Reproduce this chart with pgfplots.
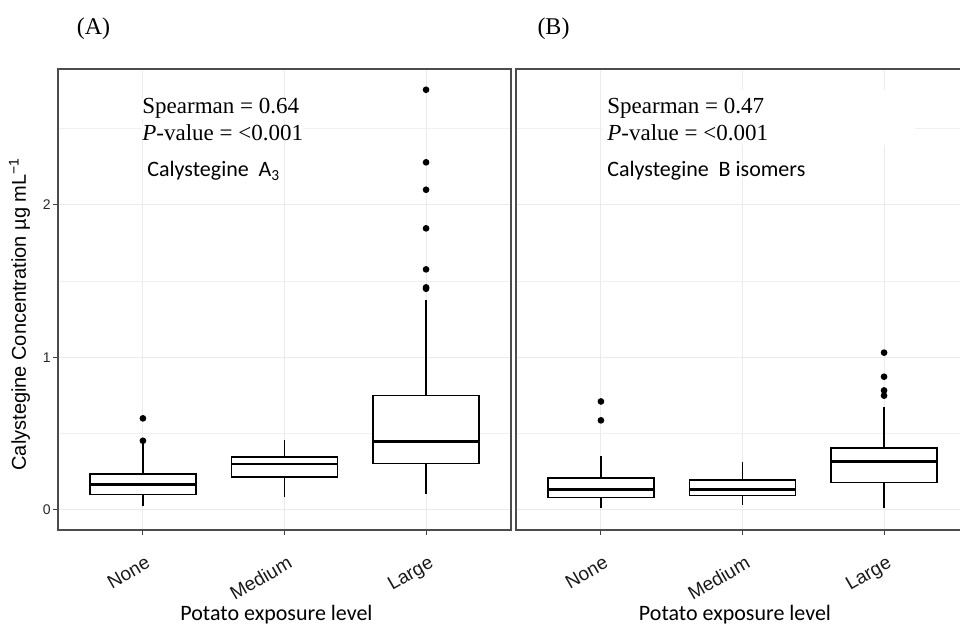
\documentclass[border=0pt]{standalone}
\usepackage{fontspec}
\setmainfont{Liberation Serif}
\newfontfamily\arial{Liberation Sans}
\newfontfamily\calibri{Carlito}
\usepackage{pgfplots}
\pgfplotsset{compat=1.18}
\usepgfplotslibrary{statistics}

% 1 px of the reference = 0.5pt
\pgfplotsset{
  panel/.style={
    scale only axis, width=226.5pt, height=230.5pt,
    anchor=south west,
    xmin=0.4, xmax=3.6, ymin=-0.133, ymax=2.89,
    xtick={1,2,3}, xticklabels={None,Medium,Large},
    ytick={0,1,2}, minor ytick={0.5,1.5,2.5},
    grid=both,
    major grid style={color=black!8, line width=0.5pt},
    minor grid style={color=black!6, line width=0.3pt},
    axis line style={black!70, line width=0.6pt},
    tick align=outside, xtick pos=bottom, ytick pos=left,
    major tick length=2.5pt, minor tick length=0pt,
    tick style={black!75, line width=0.5pt},
    /pgf/number format/assume math mode=true,
    yticklabel style={font=\arial\fontsize{7}{8}\selectfont, inner sep=1pt, text=black!85},
    xticklabel style={font=\arial\fontsize{9.5}{11}\selectfont, rotate=30, anchor=north east, inner sep=0pt, text=black!90, yshift=-9pt, xshift=-4pt},
    boxplot/draw direction=y,
    boxplot/box extend=0.75,
    boxplot/whisker extend=0,
    boxplot/every median/.style={line width=1.3pt},
  },
  bx/.style={black, line width=0.7pt, fill=white, mark=*, mark size=1.3pt, mark options={fill=black}},
}

\begin{document}
\begin{tikzpicture}

% (A) Calystegine A3
\begin{axis}[panel, at={(29pt,47.5pt)}]
\addplot[bx, boxplot prepared={lower whisker=0.022, lower quartile=0.098, median=0.164,
  upper quartile=0.234, upper whisker=0.433, draw position=1}]
  coordinates {(0,0.599)(0,0.452)};
\addplot[bx, boxplot prepared={lower whisker=0.083, lower quartile=0.214, median=0.300,
  upper quartile=0.345, upper whisker=0.459, draw position=2}]
  coordinates {};
\addplot[bx, boxplot prepared={lower whisker=0.103, lower quartile=0.304, median=0.446,
  upper quartile=0.750, upper whisker=1.377, draw position=3}]
  coordinates {(0,2.754)(0,2.278)(0,2.098)(0,1.845)(0,1.576)(0,1.458)(0,1.449)};
\end{axis}

% (B) Calystegine B isomers
\begin{axis}[panel, at={(258pt,47.5pt)}, yticklabels={}, ytick style={draw=none}]
\addplot[bx, boxplot prepared={lower whisker=0.011, lower quartile=0.081, median=0.131,
  upper quartile=0.208, upper whisker=0.354, draw position=1}]
  coordinates {(0,0.710)(0,0.586)};
\addplot[bx, boxplot prepared={lower whisker=0.033, lower quartile=0.094, median=0.131,
  upper quartile=0.195, upper whisker=0.310, draw position=2}]
  coordinates {};
\addplot[bx, boxplot prepared={lower whisker=0.008, lower quartile=0.179, median=0.315,
  upper quartile=0.404, upper whisker=0.671, draw position=3}]
  coordinates {(0,1.030)(0,0.872)(0,0.782)(0,0.748)};
\end{axis}

% white patch left over in the right panel
\fill[white] (301.5pt,240pt) rectangle (457.5pt,267.5pt);

% panel letters
\node[anchor=base, font=\fontsize{12}{14}\selectfont] at (46.75pt,295pt) {(A)};
\node[anchor=base, font=\fontsize{12}{14}\selectfont] at (276.75pt,295pt) {(B)};

% annotations
\node[anchor=base west, inner sep=0pt, fill=white, font=\fontsize{11.5}{13}\selectfont] at (71pt,255.5pt) {Spearman = 0.64};
\node[anchor=base west, inner sep=0pt, fill=white, font=\fontsize{11.5}{13}\selectfont] at (71pt,242pt) {\textit{P}-value = <0.001};
\node[anchor=base west, inner sep=0pt, font=\calibri\fontsize{11}{13}\selectfont] at (73.5pt,224pt) {Calystegine\ \ A\textsubscript{3}};

\node[anchor=base west, inner sep=0pt, fill=white, font=\fontsize{11.5}{13}\selectfont] at (303.5pt,255.5pt) {Spearman = 0.47};
\node[anchor=base west, inner sep=0pt, fill=white, font=\fontsize{11.5}{13}\selectfont] at (303.5pt,242pt) {\textit{P}-value = <0.001};
\node[anchor=base west, inner sep=0pt, font=\calibri\fontsize{11}{13}\selectfont] at (303.5pt,224pt) {Calystegine\ \ B isomers};

% axis titles
\node[anchor=base, rotate=90, inner sep=0pt, font=\arial\fontsize{10}{12}\selectfont] at (13pt,155.5pt) {Calystegine\ Concentration\ µg mL\textsuperscript{−1}};
\node[anchor=base, inner sep=0pt, font=\calibri\fontsize{11}{13}\selectfont] at (138.25pt,2pt) {Potato exposure\ level};
\node[anchor=base, inner sep=0pt, font=\calibri\fontsize{11}{13}\selectfont] at (367.5pt,2pt) {Potato exposure\ level};

\pgfresetboundingbox
\path (0pt,0pt) rectangle (480pt,312.5pt);
\end{tikzpicture}
\end{document}
